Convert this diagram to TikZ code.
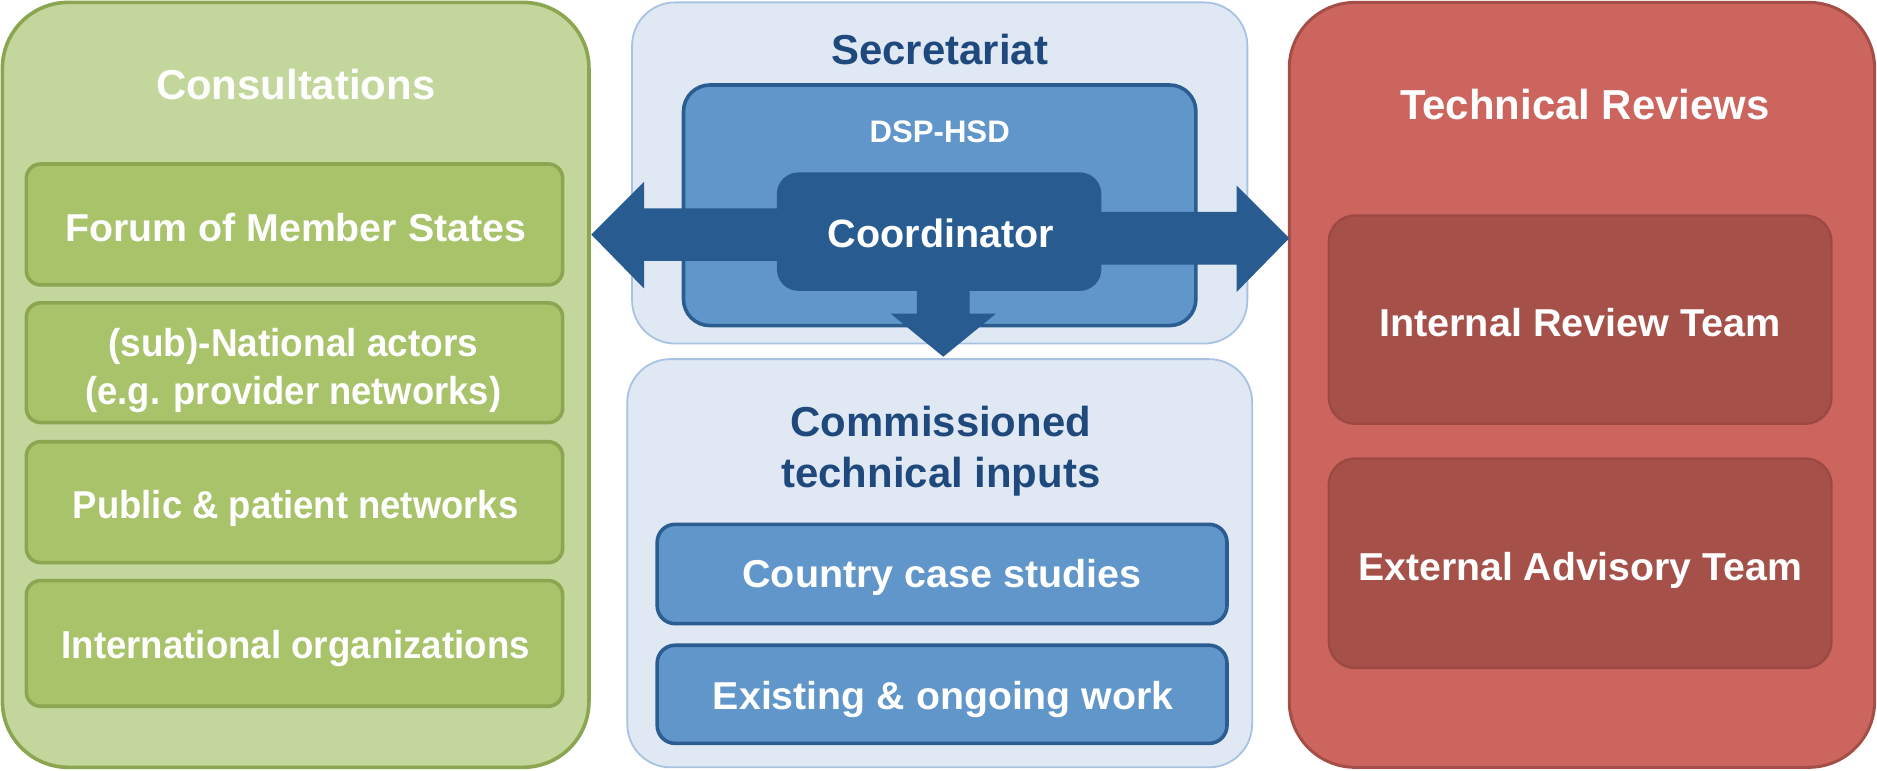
\documentclass[tikz,border=0pt]{standalone}
\usepackage{fontspec}
\setmainfont{Liberation Sans}
\definecolor{grnO}{HTML}{C3D69B}
\definecolor{grnI}{HTML}{A9C36B}
\definecolor{grnB}{HTML}{8BA551}
\definecolor{bluO}{HTML}{DFE8F3}
\definecolor{bluOB}{HTML}{A8C2E2}
\definecolor{bluM}{HTML}{6096C9}
\definecolor{bluMB}{HTML}{2C5D91}
\definecolor{bluD}{HTML}{285C91}
\definecolor{bluT}{HTML}{1F497D}
\definecolor{redO}{HTML}{CD655F}
\definecolor{redOB}{HTML}{A54E48}
\definecolor{redI}{HTML}{A6504A}
\definecolor{redIB}{HTML}{9D4943}
\newcommand{\hsq}[2]{\scalebox{#1}[1]{#2}}
\begin{document}
\begin{tikzpicture}[x=1pt,y=-1pt,
  base/.style={rectangle,inner sep=0pt,outer sep=0pt},
  grnouter/.style={base,draw=grnB,fill=grnO,line width=3pt,rounded corners=55pt},
  grnitem/.style={base,draw=grnB,fill=grnI,line width=3pt,rounded corners=12pt,minimum width=448pt},
  bluouter/.style={base,draw=bluOB,fill=bluO,line width=1.5pt,rounded corners=36pt},
  blumid/.style={base,draw=bluMB,fill=bluM,line width=3pt,rounded corners=22pt},
  bluitem/.style={base,draw=bluMB,fill=bluM,line width=3pt,rounded corners=15pt,minimum width=476pt},
  coordbox/.style={base,fill=bluD,rounded corners=18pt},
  redouter/.style={base,draw=redOB,fill=redO,line width=2.5pt,rounded corners=55pt},
  reditem/.style={base,draw=redIB,fill=redI,line width=2pt,rounded corners=22pt,minimum width=420pt},
  blockarrow/.style={fill=bluD},
  title/.style={font=\fontsize{35}{42}\selectfont\bfseries,anchor=base,inner sep=0pt,align=center},
  item/.style={font=\fontsize{32.5}{40}\selectfont\bfseries,anchor=base,inner sep=0pt,align=center,text=white}
]
\useasboundingbox (0,0) rectangle (1568,644);
% containers
\node[grnouter,minimum width=490pt,minimum height=639pt] (cons) at (247,321.5) {};
\node[bluouter,minimum width=514pt,minimum height=285pt] (sec) at (785,144.5) {};
\node[blumid,minimum width=428pt,minimum height=201pt] (dsp) at (785,171.5) {};
\node[bluouter,minimum width=522pt,minimum height=341pt] (com) at (785,470.5) {};
\node[redouter,minimum width=489pt,minimum height=639pt] (rev) at (1321.5,321.5) {};
% green items
\node[grnitem,minimum height=101pt] (forum) at (246,187.5) {};
\node[grnitem,minimum height=100pt] (natl) at (246,303) {};
\node[grnitem,minimum height=101pt] (pub) at (246,419.5) {};
\node[grnitem,minimum height=105pt] (intl) at (246,537.5) {};
% blue items
\node[bluitem,minimum height=83pt] (ccs) at (787,479.5) {};
\node[bluitem,minimum height=82pt] (eow) at (787,580) {};
% red items
\node[reditem,minimum height=174pt] (irt) at (1320,267) {};
\node[reditem,minimum height=175pt] (eat) at (1320,470.5) {};
% arrows
\fill[blockarrow] (494,196) -- (538,152) -- (538,174) -- (660,174) -- (660,218) -- (538,218) -- (538,241) -- cycle;
\fill[blockarrow] (1077,199) -- (1033,155) -- (1033,177) -- (910,177) -- (910,221) -- (1033,221) -- (1033,244) -- cycle;
\fill[blockarrow] (766,235) -- (810,235) -- (810,262) -- (832,262) -- (788,298) -- (744,262) -- (766,262) -- cycle;
\node[coordbox,minimum width=271pt,minimum height=99pt] (coord) at (784.5,193.5) {};
% texts
\node[title,text=white] (tcons) at (247,83) {Consultations};
\node[title,text=bluT] (tsec) at (785,54) {Secretariat};
\node[font=\fontsize{26}{30}\selectfont\bfseries,anchor=base,inner sep=0pt,text=white] (tdsp) at (785,119) {DSP-HSD};
\node[font=\fontsize{33}{40}\selectfont\bfseries,anchor=base,inner sep=0pt,text=white] (tcoord) at (786,206.5) {Coordinator};
\node[title,text=bluT] (tcom) at (786,407) {Commissioned\\technical inputs};
\node[title,text=white] (trev) at (1324,100) {Technical Reviews};
\node[item] (tforum) at (247,201.5) {\hsq{1.01}{Forum of Member States}};
\node[item] (tnatl) at (245,338) {\hsq{0.95}{(sub)-National actors}\\\hsq{0.935}{(e.g. provider networks)}};
\node[item] (tpub) at (247,433) {\hsq{0.937}{Public \& patient networks}};
\node[item] (tintl) at (247,550) {\hsq{0.942}{International organizations}};
\node[item] (tccs) at (787,491) {\hsq{1.015}{Country case studies}};
\node[item] (teow) at (788,593) {\hsq{1.01}{Existing \& ongoing work}};
\node[item] (tirt) at (1320,281.5) {\hsq{1.018}{Internal Review Team}};
\node[item] (teat) at (1320,485) {\hsq{1.008}{External Advisory Team}};
\end{tikzpicture}
\end{document}
